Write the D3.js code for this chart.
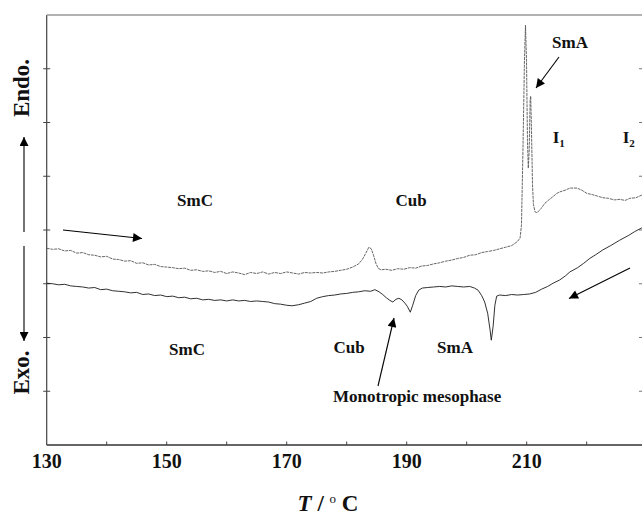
<!DOCTYPE html>
<html>
<head>
<meta charset="utf-8">
<script src="https://cdn.jsdelivr.net/npm/d3@7"></script>
<style>
  html, body { margin: 0; padding: 0; background: #fff; }
  svg { display: block; }
  .lbl { font-family: "Liberation Serif", "Times New Roman", serif; font-weight: bold; fill: #111; }
</style>
</head>
<body>
<svg id="chart" width="642" height="515"></svg>
<script>
// DSC traces: temperature (°C) and heat flow (arbitrary units, endo up)
const heatingT = [130.0,131.0,132.0,133.0,134.0,135.0,136.0,137.0,138.0,139.0,140.0,141.0,142.0,143.0,144.0,145.0,146.0,147.0,148.0,149.0,
  150.0,151.0,152.0,153.0,154.0,155.0,156.0,157.0,158.0,159.0,160.0,161.0,162.0,163.0,164.0,165.0,166.0,167.0,168.0,169.0,
  170.0,171.0,172.0,173.0,174.0,175.0,176.0,177.0,178.0,179.0,180.0,181.0,182.0,182.6,183.1,183.7,184.1,184.5,184.9,185.3,
  185.8,186.5,187.5,188.5,189.5,190.5,191.5,192.5,193.5,194.5,195.5,196.5,197.5,198.5,199.5,200.5,201.5,202.5,203.5,204.5,
  205.5,206.5,207.5,208.4,208.9,209.13,209.38,209.63,209.8,209.97,210.13,210.27,210.42,210.58,210.67,210.8,210.97,211.13,211.38,211.72,
  212.4,213.05,213.7,214.38,215.0,215.55,216.4,217.22,218.38,219.2,220.05,220.9,221.8,222.72,223.6,224.6,225.55,226.4,227.2,228.2,229.2];
const heatingV = [3.66,3.64,3.65,3.61,3.62,3.57,3.58,3.54,3.53,3.50,3.51,3.46,3.45,3.42,3.43,3.38,3.39,3.35,3.36,3.32,
  3.31,3.30,3.28,3.29,3.25,3.26,3.23,3.24,3.21,3.23,3.19,3.22,3.20,3.17,3.21,3.19,3.22,3.18,3.21,3.19,
  3.22,3.20,3.18,3.21,3.20,3.21,3.20,3.22,3.23,3.25,3.27,3.31,3.37,3.45,3.55,3.68,3.65,3.52,3.37,3.28,
  3.26,3.27,3.25,3.28,3.27,3.30,3.29,3.33,3.34,3.37,3.39,3.42,3.44,3.47,3.49,3.53,3.54,3.58,3.60,3.62,
  3.65,3.68,3.71,3.78,3.85,4.09,5.49,7.16,7.81,7.16,5.67,5.15,5.49,6.42,6.49,5.86,4.84,4.47,4.34,4.32,
  4.40,4.50,4.56,4.62,4.68,4.71,4.74,4.78,4.78,4.74,4.68,4.66,4.63,4.60,4.59,4.56,4.57,4.55,4.59,4.60,4.65];

const coolingT = [130.0,131.0,132.0,133.0,134.0,135.0,136.0,137.0,138.0,139.0,140.0,141.0,142.0,143.0,144.0,145.0,146.0,147.0,148.0,149.0,
  150.0,151.0,152.0,153.0,154.0,155.0,156.0,157.0,158.0,159.0,160.0,161.0,162.0,163.0,164.0,165.0,166.0,167.0,168.0,169.0,
  170.0,170.9,172.0,173.0,174.0,175.0,176.0,177.0,178.0,179.0,180.0,181.0,182.0,183.0,184.0,184.7,185.4,186.0,186.6,187.2,
  187.7,188.2,188.7,189.2,189.7,190.1,190.6,191.0,191.5,192.0,192.6,193.5,194.5,195.5,196.5,197.5,198.5,199.5,200.5,201.3,
  201.9,202.5,203.0,203.5,203.9,204.1,204.4,204.7,205.0,205.5,206.5,207.5,208.5,209.5,210.5,211.5,212.5,213.5,214.4,215.5,
  216.5,217.2,218.5,219.5,220.5,221.5,222.7,224.0,225.5,227.0,228.0,229.2];
const coolingV = [3.01,3.00,2.98,2.99,2.96,2.95,2.94,2.92,2.93,2.89,2.90,2.87,2.86,2.85,2.83,2.84,2.80,2.81,2.78,2.79,
  2.76,2.77,2.74,2.75,2.72,2.73,2.70,2.71,2.69,2.70,2.68,2.70,2.68,2.69,2.67,2.68,2.67,2.66,2.63,2.62,
  2.60,2.59,2.61,2.64,2.67,2.73,2.76,2.78,2.79,2.81,2.82,2.84,2.85,2.87,2.86,2.89,2.85,2.80,2.74,2.69,
  2.66,2.71,2.73,2.70,2.64,2.58,2.47,2.60,2.78,2.88,2.92,2.93,2.94,2.95,2.94,2.96,2.95,2.94,2.95,2.92,
  2.88,2.78,2.66,2.45,2.14,1.95,2.20,2.60,2.77,2.79,2.78,2.80,2.79,2.80,2.81,2.84,2.90,2.95,3.01,3.07,
  3.15,3.22,3.30,3.38,3.47,3.54,3.63,3.71,3.81,3.90,3.97,4.04];

const xTicks = [130,140,150,160,170,180,190,200,210,220];
const xTickLabels = ["130","150","170","190","210"];
const yTicks = [0,1,2,3,4,5,6,7,8];

const svg = d3.select("#chart");
const x = d3.scaleLinear().domain([130, 229.22]).range([46.7, 642]);
const y = d3.scaleLinear().domain([0, 8]).range([445, 15]);

// frame: left axis, bottom axis, top rule, right-hand tick stubs
svg.append("line").attr("x1", x(130)).attr("x2", x(130)).attr("y1", y(8)).attr("y2", y(0))
  .attr("stroke", "#444").attr("stroke-width", 1.2);
svg.append("line").attr("x1", x(130)).attr("x2", 642).attr("y1", y(0)).attr("y2", y(0))
  .attr("stroke", "#333").attr("stroke-width", 1.3);
svg.append("line").attr("x1", x(130)).attr("x2", 642).attr("y1", y(8)).attr("y2", y(8))
  .attr("stroke", "#999").attr("stroke-width", 1.6);

svg.selectAll(".ytl").data(yTicks.slice(1, -1)).join("line")
  .attr("x1", x(130) - 3.5).attr("x2", x(130) + 3.5)
  .attr("y1", d => y(d)).attr("y2", d => y(d))
  .attr("stroke", "#444").attr("stroke-width", 1);
svg.selectAll(".ytr").data(yTicks.slice(1, -1)).join("line")
  .attr("x1", 639).attr("x2", 642)
  .attr("y1", d => y(d)).attr("y2", d => y(d))
  .attr("stroke", "#777").attr("stroke-width", 1);
svg.selectAll(".xt").data(xTicks.slice(1)).join("line")
  .attr("x1", d => x(d)).attr("x2", d => x(d))
  .attr("y1", y(0)).attr("y2", y(0) - 3.5)
  .attr("stroke", "#444").attr("stroke-width", 1);

svg.selectAll(".xl").data(xTickLabels).join("text")
  .attr("class", "lbl")
  .attr("x", d => x(+d)).attr("y", 468)
  .attr("text-anchor", "middle")
  .style("font-size", "20px")
  .text(d => d);

// axis title: T / °C
const title = svg.append("text").attr("class", "lbl")
  .attr("x", 328).attr("y", 511).attr("text-anchor", "middle").style("font-size", "23px");
title.append("tspan").style("font-style", "italic").text("T");
title.append("tspan").text(" / ");
title.append("tspan").attr("dy", -8).style("font-size", "13px").style("font-weight", "normal").text("o");
title.append("tspan").attr("dy", 8).text(" C");

// traces
const line = d3.line().x(d => x(d[0])).y(d => y(d[1])).curve(d3.curveLinear);
svg.append("path")
  .datum(d3.zip(heatingT, heatingV))
  .attr("d", line).attr("fill", "none")
  .attr("stroke", "#555").attr("stroke-width", 0.9)
  .attr("stroke-dasharray", "3,0.8");
svg.append("path")
  .datum(d3.zip(coolingT, coolingV))
  .attr("d", line).attr("fill", "none")
  .attr("stroke", "#1a1a1a").attr("stroke-width", 0.9);

// arrows
const defs = svg.append("defs");
defs.append("marker").attr("id", "head")
  .attr("viewBox", "0 0 10 10").attr("refX", 10).attr("refY", 5)
  .attr("markerWidth", 12).attr("markerHeight", 9).attr("markerUnits", "userSpaceOnUse")
  .attr("orient", "auto")
  .append("path").attr("d", "M0,0 L10,5 L0,10 Z").attr("fill", "#000");

const arrows = [
  [63, 230, 142, 238.5],
  [630, 268, 569, 298.5],
  [24, 232, 24, 137],
  [24, 246, 24, 341],
  [559, 57, 536, 88],
  [378, 386, 394, 318]
];
svg.selectAll(".arr").data(arrows).join("line")
  .attr("x1", d => d[0]).attr("y1", d => d[1])
  .attr("x2", d => d[2]).attr("y2", d => d[3])
  .attr("stroke", "#000").attr("stroke-width", 1.1)
  .attr("marker-end", "url(#head)");

// side labels
svg.append("text").attr("class", "lbl")
  .attr("transform", "translate(28.5,88) rotate(-90)")
  .attr("text-anchor", "middle").style("font-size", "23px").text("Endo.");
svg.append("text").attr("class", "lbl")
  .attr("transform", "translate(29,372.5) rotate(-90)")
  .attr("text-anchor", "middle").style("font-size", "23px").text("Exo.");

// phase labels
const phaseLabels = [
  ["SmC", 195, 206, "middle"],
  ["Cub", 411, 206, "middle"],
  ["SmA", 570, 48, "middle"],
  ["SmC", 187, 355, "middle"],
  ["Cub", 349, 353, "middle"],
  ["SmA", 455, 353, "middle"],
  ["Monotropic mesophase", 333, 402, "start"]
];
svg.selectAll(".ph").data(phaseLabels).join("text")
  .attr("class", "lbl")
  .attr("x", d => d[1]).attr("y", d => d[2])
  .attr("text-anchor", d => d[3])
  .style("font-size", "17px")
  .text(d => d[0]);

// isotropic phases with subscripts
[["1", 552.7], ["2", 622.7]].forEach(([s, px]) => {
  const t = svg.append("text").attr("class", "lbl").attr("x", px).attr("y", 143).style("font-size", "17px");
  t.append("tspan").text("I");
  t.append("tspan").attr("dy", 4).style("font-size", "11px").text(s);
});
</script>
</body>
</html>
